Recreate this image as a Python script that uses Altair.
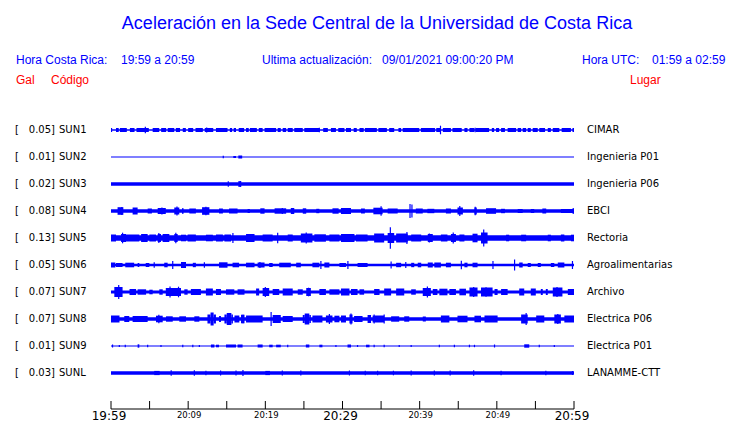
import altair as alt
import pandas as pd

# ---------------- data ----------------
codes = ["SUN1", "SUN2", "SUN3", "SUN4", "SUN5", "SUN6", "SUN7", "SUN8", "SUN9", "SUNL"]
gal = ["0.05", "0.01", "0.02", "0.08", "0.13", "0.05", "0.07", "0.07", "0.01", "0.03"]
places = ["CIMAR", "Ingenieria P01", "Ingenieria P06", "EBCI", "Rectoria",
          "Agroalimentarias", "Archivo", "Electrica P06", "Electrica P01", "LANAMME-CTT"]

# background (noise) half-amplitude of every trace, in display units
base_half = [0.7, 0.5, 1.8, 1.8, 2.7, 1.3, 1.5, 1.8, 0.5, 1.8]

# bursts: (start minute, end minute, half-amplitude)
bursts = {
    "SUN1": [(0.0, 0.15, 2), (0.65, 1.0, 2), (1.15, 2.05, 2), (2.45, 3.05, 2), (3.3, 4.9, 2), (5.4, 6.25, 2),
             (6.5, 7.15, 2), (7.35, 8.2, 2), (8.4, 8.95, 2), (9.3, 9.7, 2), (10.0, 10.65, 2), (10.95, 11.9, 2),
             (12.15, 13.25, 2), (13.6, 15.1, 2), (15.4, 15.7, 2), (15.9, 16.2, 2), (16.55, 17.25, 2),
             (17.5, 17.85, 2), (18.0, 18.9, 2), (19.15, 19.65, 2), (19.9, 21.4, 2), (21.6, 22.0, 2),
             (22.25, 22.7, 2), (22.9, 23.55, 2), (23.75, 24.85, 2), (25.05, 27.0, 2), (27.5, 28.1, 2),
             (28.5, 29.15, 2), (29.45, 30.25, 2), (30.45, 31.1, 2), (31.45, 31.85, 2), (32.2, 32.75, 2),
             (32.9, 34.45, 2), (34.65, 35.75, 2), (36.05, 36.7, 2), (37.25, 37.6, 2), (37.8, 39.95, 2),
             (40.15, 42.0, 2), (42.15, 42.75, 2), (43.0, 44.05, 2), (44.25, 45.45, 2), (45.8, 46.2, 2),
             (46.45, 47.1, 2), (47.3, 49.0, 2), (49.35, 49.65, 2), (49.9, 50.3, 2), (50.55, 51.05, 2),
             (51.4, 52.5, 2), (52.7, 53.15, 2), (53.35, 53.8, 2), (54.0, 54.4, 2), (54.65, 55.3, 2),
             (55.5, 56.25, 2), (56.6, 57.0, 2), (57.25, 58.1, 2), (58.4, 59.6, 2), (59.8, 60.0, 2)],
    "SUN2": [(15.85, 16.2, 1.0), (16.5, 17.0, 1.5)],
    "SUN3": [(16.55, 16.85, 2.5)],
    "SUN4": [(0.85, 1.6, 3.8), (2.8, 3.45, 3.5), (4.75, 5.3, 2.5), (6.05, 7.1, 3.0), (8.2, 8.85, 3.5),
             (9.2, 9.4, 2.8), (10.15, 11.0, 2.5), (11.8, 12.75, 3.8), (14.0, 14.5, 2.5), (15.3, 16.4, 2.5),
             (17.7, 18.0, 2.0), (19.35, 19.9, 2.7), (21.2, 22.7, 2.7), (23.3, 23.75, 3.0), (24.85, 25.3, 2.7),
             (26.6, 27.0, 2.2), (28.7, 29.5, 2.7), (29.8, 31.1, 3.0), (32.4, 32.9, 2.5), (34.0, 35.2, 3.3),
             (35.85, 37.15, 2.5), (39.5, 40.4, 2.5), (41.0, 41.9, 2.2), (43.4, 44.05, 2.5), (44.9, 45.6, 3.5),
             (47.1, 47.4, 3.5), (48.6, 49.9, 2.8), (50.55, 51.05, 2.2), (52.7, 53.35, 2.0), (54.4, 54.85, 2.0),
             (55.9, 56.4, 2.5), (58.3, 60.0, 2.0)],
    "SUN5": [(0.0, 0.65, 3.5), (1.3, 1.95, 4.0), (1.95, 3.67, 3.5), (3.9, 4.75, 4.0), (4.97, 5.83, 3.5),
             (6.05, 6.48, 4.0), (6.69, 7.56, 4.0), (8.2, 8.64, 4.0), (9.07, 9.72, 3.3), (9.93, 11.0, 3.5),
             (12.3, 13.2, 3.3), (13.6, 14.5, 3.5), (14.7, 15.55, 3.5), (17.5, 18.6, 4.0), (19.65, 20.95, 3.5),
             (22.9, 23.55, 3.5), (24.6, 26.1, 4.5), (26.35, 27.85, 3.7), (28.3, 29.6, 3.5), (29.8, 31.55, 4.0),
             (31.75, 33.25, 3.5), (34.1, 35.4, 4.5), (35.85, 36.7, 5.0), (36.95, 38.45, 4.5), (38.9, 40.2, 3.5),
             (41.05, 41.7, 4.0), (42.75, 43.6, 3.5), (44.05, 44.7, 4.0), (45.15, 45.8, 3.5), (46.85, 47.5, 4.3),
             (47.95, 48.8, 5.5), (51.2, 51.6, 3.3), (53.15, 53.8, 3.3), (56.6, 57.0, 3.3), (58.3, 58.75, 3.5),
             (59.6, 60.0, 3.3)],
    "SUN6": [(0.0, 0.56, 2.5), (0.65, 1.5, 2.0), (1.85, 3.0, 2.3), (3.45, 3.67, 2.0), (4.5, 4.97, 2.0),
             (6.9, 7.34, 2.3), (9.07, 9.72, 3.0), (10.6, 11.0, 2.2), (14.0, 15.1, 2.7), (15.75, 16.6, 2.3),
             (17.5, 18.6, 2.3), (19.0, 19.9, 2.5), (20.5, 20.95, 2.0), (21.8, 23.3, 2.3), (24.0, 24.6, 2.3),
             (26.1, 27.0, 2.3), (27.65, 28.3, 2.5), (29.6, 30.45, 2.0), (31.95, 33.25, 2.0), (36.95, 37.6, 2.2),
             (38.9, 39.3, 2.2), (39.75, 40.2, 2.3), (41.05, 41.7, 2.5), (41.9, 42.75, 2.5), (43.4, 44.05, 2.3),
             (45.8, 46.2, 2.3), (46.85, 47.5, 2.3), (52.9, 53.35, 2.5), (54.0, 54.4, 2.0), (55.3, 55.7, 2.0),
             (57.0, 57.45, 2.0), (57.9, 58.75, 2.5)],
    "SUN7": [(0.43, 1.5, 5.0), (2.4, 3.25, 3.0), (3.45, 4.55, 2.7), (4.97, 5.4, 2.3), (6.26, 6.7, 2.7),
             (7.1, 9.07, 4.0), (9.5, 9.93, 2.7), (10.35, 11.65, 3.0), (12.3, 13.2, 3.5), (13.6, 14.25, 3.0),
             (14.9, 15.98, 2.7), (16.4, 17.3, 2.7), (18.8, 19.2, 3.5), (19.65, 20.5, 4.0), (20.95, 21.8, 3.0),
             (22.25, 23.55, 3.5), (24.2, 24.85, 2.7), (25.3, 25.9, 4.0), (27.0, 27.85, 3.0), (28.3, 29.6, 2.7),
             (29.8, 30.9, 3.5), (31.1, 31.95, 3.0), (32.2, 32.8, 2.7), (34.1, 34.8, 3.0), (35.4, 36.3, 3.5),
             (36.95, 38.0, 3.5), (38.9, 39.5, 2.7), (40.4, 41.45, 4.0), (41.7, 42.3, 3.0), (42.55, 43.6, 3.3),
             (43.85, 44.7, 3.0), (45.15, 46.0, 3.3), (46.45, 47.5, 4.5), (47.95, 49.45, 4.5), (49.7, 50.1, 3.0),
             (50.55, 51.4, 3.0), (52.9, 53.55, 3.5), (54.4, 55.05, 3.5), (55.7, 55.95, 3.0), (56.35, 56.6, 3.0),
             (57.25, 58.5, 4.5), (59.2, 60.0, 3.0)],
    "SUN8": [(0.0, 1.1, 3.5), (1.72, 2.37, 3.0), (2.8, 4.75, 3.0), (5.83, 6.7, 3.3), (7.13, 8.0, 2.7),
             (8.85, 9.72, 2.7), (10.8, 11.45, 2.7), (12.5, 12.9, 4.5), (12.9, 13.3, 6.5), (13.3, 13.6, 4.5),
             (14.0, 14.25, 3.0), (14.7, 15.0, 4.5), (15.0, 15.6, 6.0), (15.6, 15.8, 4.5), (16.0, 16.63, 3.5),
             (16.85, 17.3, 4.3), (17.5, 19.65, 3.5), (20.95, 22.0, 4.0), (22.25, 23.55, 3.0), (24.85, 25.1, 4.0),
             (25.1, 25.7, 5.5), (25.7, 25.9, 4.0), (26.1, 27.4, 3.5), (27.85, 28.7, 3.5), (28.95, 29.6, 3.3),
             (29.8, 30.45, 3.5), (30.9, 31.3, 4.5), (31.5, 32.6, 3.0), (33.25, 33.7, 4.0), (33.9, 35.4, 3.5),
             (36.3, 37.35, 2.7), (38.0, 38.65, 2.7), (40.4, 40.8, 2.5), (42.75, 43.85, 3.5), (44.9, 46.2, 3.3),
             (47.1, 47.95, 3.3), (48.4, 50.1, 3.5), (53.15, 54.0, 4.5), (55.1, 56.15, 3.5), (57.45, 58.3, 4.5),
             (58.75, 60.0, 3.5)],
    "SUN9": [(3.45, 3.67, 1.7), (12.95, 13.4, 1.5), (13.6, 14.0, 1.3), (14.9, 16.2, 1.5), (16.4, 17.05, 1.5),
             (19.0, 19.65, 1.5), (20.5, 20.95, 1.3), (21.4, 22.0, 1.3), (25.25, 25.7, 1.5), (27.0, 27.4, 1.3),
             (30.65, 31.1, 1.5), (33.05, 33.5, 1.3), (53.55, 54.2, 1.7)],
    "SUNL": [(5.6, 6.3, 2.1), (20.0, 20.6, 2.1)],
}

# spikes: (minute, half-amplitude)
spikes = {
    "SUN1": [(4.45, 3.3), (12.4, 2.5), (27.0, 2.2), (42.7, 4.3), (47.2, 2.3)],
    "SUN2": [(14.55, 1.3)],
    "SUN3": [(15.2, 2.7), (16.6, 2.9), (16.8, 2.9)],
    "SUN4": [(1.4, 4.0), (6.6, 3.5), (8.55, 4.5), (12.3, 4.3), (22.2, 3.0), (35.0, 4.7), (38.75, 7.0),
             (39.0, 6.5), (45.2, 5.0), (47.2, 4.2), (59.9, 3.0)],
    "SUN5": [(1.5, 5.3), (6.2, 5.0), (8.4, 5.3), (15.8, 5.0), (21.6, 5.3), (25.3, 5.5), (36.2, 10.7),
             (38.35, 6.0), (41.25, 4.5), (44.35, 5.5), (48.3, 8.5)],
    "SUN6": [(5.6, 2.7), (8.0, 4.0), (12.1, 2.7), (19.3, 3.0), (27.2, 4.0), (30.7, 4.0), (36.3, 3.5),
             (38.2, 3.0), (45.4, 4.3), (49.5, 4.0), (52.3, 5.5), (59.8, 4.0)],
    "SUN7": [(1.0, 7.0), (7.65, 5.5), (8.75, 5.3), (20.0, 5.0), (25.6, 4.3), (41.0, 5.5), (47.0, 5.0),
             (48.6, 4.7), (57.8, 5.0)],
    "SUN8": [(6.2, 4.3), (17.1, 4.3), (20.75, 7.0), (28.3, 5.0), (31.1, 5.5), (34.1, 4.5), (35.4, 4.5),
             (53.8, 6.0), (57.9, 5.0)],
    "SUN9": [(0.2, 1.5), (1.08, 1.0), (1.85, 1.2), (4.75, 1.2), (6.48, 1.0), (9.3, 1.2), (10.6, 1.2),
             (11.45, 1.0), (22.9, 1.2), (29.15, 1.0), (31.95, 1.0), (34.1, 1.2), (35.4, 1.2), (37.35, 1.0),
             (38.9, 1.0), (42.55, 1.2), (44.5, 1.2), (46.45, 1.3), (47.1, 1.2), (49.7, 1.5), (55.5, 1.2),
             (57.45, 1.0)],
    "SUNL": [(7.8, 2.7), (10.8, 2.7), (12.3, 2.2), (14.2, 2.5), (16.2, 2.5), (17.1, 3.0), (22.2, 2.5),
             (24.6, 2.5), (30.9, 2.5), (32.95, 2.3), (34.55, 2.3), (36.6, 2.3), (38.9, 2.5), (41.9, 2.5),
             (43.95, 2.5), (47.0, 2.7), (50.55, 2.3), (56.35, 2.3), (59.8, 2.0)],
}

tick_minutes = list(range(0, 61, 5))
label_minutes = [0, 10, 20, 30, 40, 50, 60]
label_text = ["19:59", "20:09", "20:19", "20:29", "20:39", "20:49", "20:59"]
label_major = [True, False, False, True, False, False, True]

# ---------------- layout ----------------
W, H = 463, 414
ROW = 27.0          # display units per row spacing
BLUE = "#0000ff"
RED = "#ff0000"
HFONT = "Liberation Sans"
SFONT = "DejaVu Sans"

rows_base, rows_burst, rows_spike = [], [], []
for i, c in enumerate(codes):
    rows_base.append({"code": c, "t0": 0.0, "t1": 60.0, "lo": i - base_half[i] / ROW, "hi": i + base_half[i] / ROW})
    for (a, b, h) in bursts[c]:
        rows_burst.append({"code": c, "t0": a, "t1": b, "lo": i - h / ROW, "hi": i + h / ROW})
    for (t, h) in spikes[c]:
        rows_spike.append({"code": c, "t": t, "lo": i - h / ROW, "hi": i + h / ROW})

df_base = pd.DataFrame(rows_base)
df_burst = pd.DataFrame(rows_burst)
df_spike = pd.DataFrame(rows_spike)
df_st = pd.DataFrame({"row": list(range(len(codes))), "code": codes,
                      "gal": [g + "]" for g in gal], "place": places})
df_ticks = pd.DataFrame({"m": tick_minutes})
df_lab = pd.DataFrame({"m": label_minutes, "txt": label_text, "major": label_major})

xs = alt.Scale(domain=[0, 60], nice=False, zero=False)
ys = alt.Scale(domain=[-122 / ROW, (H - 122) / ROW], nice=False, zero=False, reverse=True)

X = lambda f: alt.X(f, type="quantitative", scale=xs, axis=None)
Y = lambda f: alt.Y(f, type="quantitative", scale=ys, axis=None)

base = alt.Chart(df_base).mark_rect(color=BLUE).encode(
    x=X("t0"), x2="t1", y=Y("lo"), y2="hi")
burst = alt.Chart(df_burst).mark_rect(color=BLUE).encode(
    x=X("t0"), x2="t1", y=Y("lo"), y2="hi")
spike = alt.Chart(df_spike).mark_rule(color=BLUE, strokeWidth=1.2).encode(
    x=X("t"), y=Y("lo"), y2="hi")

st_open = alt.Chart(df_st).mark_text(text="[", font=SFONT, fontSize=10, align="left", baseline="middle",
                                     color="black").encode(x=alt.value(-96), y=Y("row"))
st_gal = alt.Chart(df_st).mark_text(font=SFONT, fontSize=10, align="right", baseline="middle",
                                    color="black").encode(x=alt.value(-56), y=Y("row"), text="gal")
st_code = alt.Chart(df_st).mark_text(font=SFONT, fontSize=10, align="left", baseline="middle",
                                     color="black").encode(x=alt.value(-52), y=Y("row"), text="code")
st_place = alt.Chart(df_st).mark_text(font=SFONT, fontSize=10, align="left", baseline="middle",
                                      color="black").encode(x=alt.value(476), y=Y("row"), text="place")

axis_line = alt.Chart(df_ticks).mark_rule(color="black", strokeWidth=1).encode(
    x=alt.X("min(m):Q", scale=xs, axis=None), x2="max(m):Q", y=alt.value(401))
ticks = alt.Chart(df_ticks).mark_rule(color="black", strokeWidth=1).encode(
    x=X("m"), y=alt.value(393), y2=alt.value(401))
lab_major = alt.Chart(df_lab).transform_filter("datum.major").mark_text(
    font=SFONT, fontSize=12, align="center", baseline="middle", color="black", dx=-2).encode(
    x=X("m"), y=alt.value(408), text="txt")
lab_minor = alt.Chart(df_lab).transform_filter("!datum.major").mark_text(
    font=SFONT, fontSize=8.5, align="center", baseline="middle", color="black", dx=1).encode(
    x=X("m"), y=alt.value(406.5), text="txt")

one = alt.Data(values=[{"k": 1}])


def label(txt, x, y, size=12, color=BLUE, align="left", font=HFONT):
    return alt.Chart(one).mark_text(text=txt, font=font, fontSize=size, color=color, align=align,
                                    baseline="alphabetic").encode(x=alt.value(x), y=alt.value(y))


headers = [
    label("Aceleración en la Sede Central de la Universidad de Costa Rica", 266, 21, size=18, align="center"),
    label("Hora Costa Rica:", -95, 56),
    label("19:59 a 20:59", 10, 56),
    label("Ultima actualización:", 151, 56),
    label("09/01/2021 09:00:20 PM", 271, 56),
    label("Hora UTC:", 471, 56),
    label("01:59 a 02:59", 541, 56),
    label("Gal", -95, 76, color=RED),
    label("Código", -60, 76, color=RED),
    label("Lugar", 519, 76, color=RED),
]

chart = alt.layer(
    base, burst, spike, st_open, st_gal, st_code, st_place,
    axis_line, ticks, lab_major, lab_minor, *headers
).properties(
    width=W, height=H, autosize="none",
    padding={"left": 103, "top": 0, "right": 158, "bottom": 0},
    background="white",
).configure_view(stroke=None)

chart.save("out.html", embed_options={"renderer": "svg", "actions": False})
